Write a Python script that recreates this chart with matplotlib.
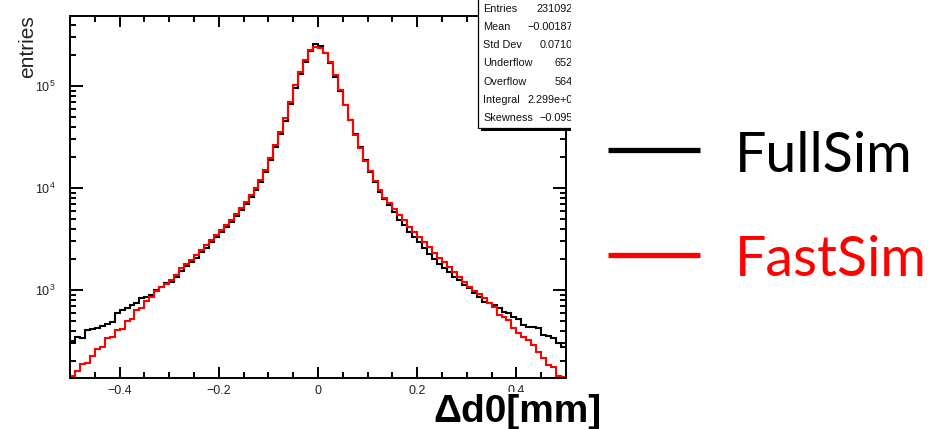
import numpy as np
import matplotlib
matplotlib.use("Agg")
import matplotlib.pyplot as plt
from matplotlib.ticker import LogLocator, LogFormatterMathtext, NullFormatter, MultipleLocator
from matplotlib.patches import Rectangle
from matplotlib.lines import Line2D

plt.rcParams['font.family'] = ['Liberation Sans', 'DejaVu Sans']
plt.rcParams['mathtext.fontset'] = 'custom'
plt.rcParams['mathtext.rm'] = 'Liberation Sans'
plt.rcParams['mathtext.it'] = 'Liberation Sans:italic'
plt.rcParams['mathtext.bf'] = 'Liberation Sans:bold'

# ---------------- data: 100 bins of delta d0 in [-0.5, 0.5] mm ----------------
n_bins = 100
x_range = (-0.5, 0.5)

fullsim = [
    316, 346, 338, 405, 415, 424, 444, 464, 486, 595,
    637, 666, 713, 746, 835, 845, 893, 1000, 1070, 1172,
    1200, 1340, 1540, 1720, 1880, 2060, 2360, 2580, 2960, 3310,
    3700, 4150, 4640, 5310, 6090, 6970, 8160, 9560, 11450, 14350,
    18800, 25300, 33800, 45400, 66600, 95600, 131100, 171900, 220300, 258000,
    246600, 210700, 168000, 122600, 89300, 65200, 46400, 33800, 25300, 18800,
    14350, 11450, 9140, 7800, 6810, 5820, 4850, 4340, 3700, 3310,
    2960, 2580, 2250, 2010, 1800, 1640, 1500, 1340, 1250, 1120,
    1047, 935, 853, 763, 746, 713, 666, 609, 595, 544,
    520, 454, 434, 434, 424, 362, 354, 338, 302, 276,
]

fastsim = [
    144, 161, 188, 192, 225, 264, 276, 338, 346, 405,
    415, 497, 520, 637, 666, 780, 853, 978, 1070, 1145,
    1250, 1400, 1640, 1800, 1970, 2200, 2470, 2760, 3090, 3460,
    3870, 4340, 4850, 5560, 6370, 7290, 8540, 10000, 11980, 15000,
    19700, 26400, 35400, 48600, 69700, 102300, 137100, 179800, 225500, 241000,
    236000, 210700, 171900, 128200, 91400, 65200, 46400, 33100, 24700, 18400,
    14680, 11710, 9560, 7980, 7130, 6220, 5440, 4850, 4150, 3700,
    3310, 2960, 2640, 2310, 2060, 1880, 1680, 1500, 1340, 1200,
    1070, 978, 914, 835, 746, 681, 569, 544, 508, 424,
    379, 346, 323, 289, 247, 215, 184, 176, 144, 140,
]

xtick_vals = [-0.4, -0.2, 0.0, 0.2, 0.4]
xtick_labels = ['\u22120.4', '\u22120.2', '0', '0.2', '0.4']

stat_names = ['Entries', 'Mean', 'Std Dev', 'Underflow', 'Overflow', 'Integral', 'Skewness']
stat_values = ['2310927', '\u22120.001872', '0.07101', '6524', '5643', '2.299e+06', '\u22120.0951']

legend_names = ['FullSim', 'FastSim']
legend_colors = ['black', '#ff0000']

# ---------------- figure ----------------
W, H = 932, 429
fig = plt.figure(figsize=(W / 100, H / 100), dpi=100)


def fx(x):
    return x / W


def fy(y):
    return 1 - y / H


ax = fig.add_axes([fx(70), fy(378), (566 - 70) / W, (378 - 16) / H])
edges = np.linspace(x_range[0], x_range[1], n_bins + 1)
ax.stairs(fullsim, edges, color='black', lw=1.5, baseline=None)
ax.stairs(fastsim, edges, color=legend_colors[1], lw=1.5, baseline=None)

ax.set_yscale('log')
ax.set_xlim(*x_range)
ax.set_ylim(137, 4.85e5)

ax.set_xticks(xtick_vals)
ax.set_xticklabels(xtick_labels)
ax.xaxis.set_minor_locator(MultipleLocator(0.05))
ax.yaxis.set_major_locator(LogLocator(base=10))
ax.yaxis.set_major_formatter(LogFormatterMathtext())
ax.yaxis.set_minor_locator(LogLocator(base=10, subs=np.arange(2, 10)))
ax.yaxis.set_minor_formatter(NullFormatter())

for s in ax.spines.values():
    s.set_linewidth(1.4)
ax.tick_params(which='both', direction='in', top=True, right=True, width=1.4,
               labelsize=9, labelcolor='#222222')
ax.tick_params(axis='x', which='major', length=8, pad=5)
ax.tick_params(axis='x', which='minor', length=4)
ax.tick_params(axis='y', which='major', length=9.5, pad=10.5)
ax.tick_params(axis='y', which='minor', length=4.5)

# axis titles
fig.text(fx(33.5), fy(15), 'entries', rotation=90, rotation_mode='anchor',
         ha='right', va='baseline', fontsize=15, color='#222222')
fig.text(fx(433), fy(422), '\u0394d0[mm]', ha='left', va='baseline',
         fontsize=28, fontweight='bold', color='black',
         bbox=dict(facecolor='white', edgecolor='none', pad=1.5))

# ---------------- statistics box ----------------
sax = fig.add_axes([fx(476), fy(137), (571 - 476) / W, 137 / H])
sax.set_xlim(476, 571)
sax.set_ylim(137, 0)
sax.axis('off')
box_x0, box_y1, shadow = 478, 127.5, 3
sax.add_patch(Rectangle((box_x0 + shadow, -30), 300, box_y1 + shadow + 30,
                        facecolor='black', edgecolor='none'))
sax.add_patch(Rectangle((box_x0, -30), 300, box_y1 + 30,
                        facecolor='white', edgecolor='black', lw=0.9))
row_y0, row_dy = 9.2, 18.1
for i, (name, val) in enumerate(zip(stat_names, stat_values)):
    yy = row_y0 + i * row_dy
    sax.text(483, yy, name, ha='left', va='center', fontsize=7.8,
             color='#111111', clip_on=True)
    sax.text(579, yy, val, ha='right', va='center', fontsize=7.8,
             color='#111111', clip_on=True)
sax.add_patch(Rectangle((479.5, -30), 200, 30 + 8.5, facecolor='white',
                        edgecolor='none'))

# ---------------- legend ----------------
for name, col, yl, yb in zip(legend_names, legend_colors, [150, 255], [172, 276]):
    fig.add_artist(Line2D([fx(608), fx(700)], [fy(yl), fy(yl)], color=col,
                          lw=3.8, solid_capstyle='butt'))
    fig.text(fx(735), fy(yb), name, ha='left', va='baseline', fontsize=40,
             color=col, family=['Lato', 'Liberation Sans'])

fig.savefig('out.png', dpi=100)
